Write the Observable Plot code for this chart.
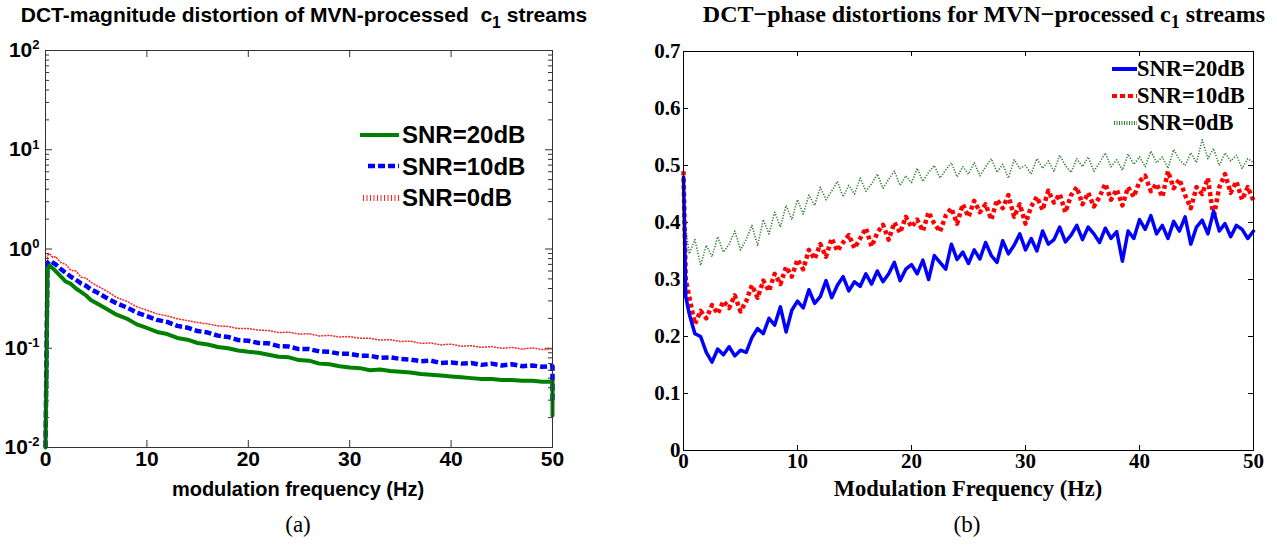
<!DOCTYPE html>
<html><head><meta charset="utf-8">
<script src="https://cdn.jsdelivr.net/npm/d3@7"></script>
<script src="https://cdn.jsdelivr.net/npm/@observablehq/plot@0.6"></script>
<style>
html,body{margin:0;padding:0;background:#fff;width:1277px;height:546px;overflow:hidden;position:relative}
.abs{position:absolute;white-space:nowrap;color:#000}
.sans{font-family:'Liberation Sans',Arial,sans-serif;font-weight:bold}
.serif{font-family:'Liberation Serif','Times New Roman',serif;font-weight:bold}
sub{font-size:0.75em;vertical-align:-0.35em;line-height:0}
.leg{position:absolute;white-space:nowrap}
.leg div{display:flex;align-items:center}
.leg svg{flex:none}
</style></head><body>
<div id="left" class="abs" style="left:0;top:0"></div>
<div id="right" class="abs" style="left:640px;top:0"></div>

<div class="abs sans" style="left:0;width:608px;top:3px;text-align:center;font-size:21px">DCT-magnitude distortion of MVN-processed&nbsp; c<sub>1</sub> streams</div>
<div class="abs serif" style="left:700px;width:568px;top:1px;text-align:center;font-size:24px">DCT−phase distortions for MVN−processed c<sub>1</sub> streams</div>

<div class="abs sans" style="left:98px;width:400px;top:479px;text-align:center;font-size:20px;line-height:20px">modulation frequency (Hz)</div>
<div class="abs serif" style="left:768px;width:400px;top:478px;text-align:center;font-size:22.5px;line-height:22px">Modulation Frequency (Hz)</div>

<div class="abs" style="left:248px;width:100px;top:512px;text-align:center;font:23px 'Liberation Serif',serif">(a)</div>
<div class="abs" style="left:917px;width:100px;top:512px;text-align:center;font:23px 'Liberation Serif',serif">(b)</div>

<div class="leg sans" style="left:356px;top:119px;font-size:24px;line-height:31.5px">
  <div><svg width="44" height="12"><line x1="4" x2="43" y1="6" y2="6" stroke="#008000" stroke-width="4"/></svg><span style="margin-left:2px">SNR=20dB</span></div>
  <div><svg width="44" height="12"><line x1="12" x2="43" y1="6" y2="6" stroke="#0000ff" stroke-width="4.5" stroke-dasharray="7,3"/></svg><span style="margin-left:2px">SNR=10dB</span></div>
  <div><svg width="44" height="12"><line x1="7" x2="43" y1="6" y2="6" stroke="#ff2020" stroke-width="6" stroke-dasharray="1,2.5"/></svg><span style="margin-left:2px">SNR=0dB</span></div>
</div>
<div class="leg serif" style="left:1108px;top:55px;font-size:22.5px;line-height:27px">
  <div><svg width="29" height="12"><line x1="4" x2="29" y1="6" y2="6" stroke="#0000ff" stroke-width="4"/></svg><span>SNR=20dB</span></div>
  <div><svg width="29" height="12"><line x1="4" x2="29" y1="6" y2="6" stroke="#ff0000" stroke-width="4" stroke-dasharray="5,3"/></svg><span>SNR=10dB</span></div>
  <div><svg width="29" height="12"><line x1="6" x2="29" y1="6" y2="6" stroke="#2e7d2e" stroke-width="4" stroke-dasharray="1,1.5"/></svg><span>SNR=0dB</span></div>
</div>

<script>
// ---------- (a) DCT-magnitude distortion (log scale) ----------
const freqMag = [0,0.2,0.4,0.7,1,1.5,2,2.5,3,3.5,4,4.5,5,
  6,7,8,9,10,11,12,13,14,15,16,17,18,19,20,21,22,23,24,25,26,27,28,29,30,
  31,32,33,34,35,36,37,38,39,40,41,42,43,44,45,46,47,48,49,50,50];
const magSNR20 = [0.01,0.62,0.68,0.64,0.6,0.53,0.47,0.445,0.40,0.37,0.34,0.305,0.285,
  0.25,0.218,0.199,0.174,0.16,0.146,0.139,0.127,0.122,0.113,0.109,0.103,0.1,0.095,0.092,0.09,0.086,0.082,0.081,0.076,0.075,0.07,0.069,0.066,0.064,
  0.063,0.06,0.061,0.059,0.058,0.057,0.055,0.054,0.053,0.052,0.051,0.05,0.049,0.049,0.048,0.048,0.047,0.047,0.046,0.046,
  0.021];
const magSNR10 = [0.01,0.72,0.76,0.73,0.7,0.63,0.575,0.525,0.49,0.45,0.425,0.39,0.37,
  0.322,0.284,0.258,0.229,0.211,0.193,0.184,0.168,0.161,0.149,0.144,0.134,0.13,0.121,0.119,0.113,0.112,0.105,0.104,0.098,0.098,0.093,0.092,0.088,0.088,
  0.084,0.084,0.08,0.081,0.078,0.077,0.074,0.075,0.071,0.072,0.07,0.071,0.068,0.07,0.067,0.069,0.066,0.067,0.065,0.066,
  0.03];
const magSNR0 = [0.01,0.86,0.9,0.82,0.84,0.73,0.7,0.61,0.6,0.52,0.51,0.46,0.43,
  0.38,0.325,0.298,0.262,0.242,0.222,0.212,0.198,0.19,0.182,0.176,0.168,0.166,0.158,0.158,0.152,0.151,0.144,0.145,0.139,0.14,0.133,0.135,0.13,0.131,
  0.126,0.126,0.121,0.122,0.117,0.118,0.112,0.113,0.108,0.11,0.105,0.106,0.102,0.104,0.1,0.102,0.098,0.101,0.097,0.099,
  0.098];
const xTickLabels = [0,10,20,30,40,50];
const magYTicks = [0.01,0.1,1,10,100];

// ---------- (b) DCT-phase distortion (linear) ----------
const freqPh = [0,0.2,
  0.5,1,1.5,2,2.5,3,3.5,4,4.5,5,
  5.5,6,6.5,7,7.5,8,8.5,9,9.5,10,
  10.5,11,11.5,12,12.5,13,13.5,14,14.5,15,
  15.5,16,16.5,17,17.5,18,18.5,19,19.5,20,
  20.5,21,21.5,22,22.5,23,23.5,24,24.5,25,
  25.5,26,26.5,27,27.5,28,28.5,29,29.5,30,
  30.5,31,31.5,32,32.5,33,33.5,34,34.5,35,
  35.5,36,36.5,37,37.5,38,38.5,39,39.5,40,
  40.5,41,41.5,42,42.5,43,43.5,44,44.5,45,
  45.5,46,46.5,47,47.5,48,48.5,49,49.5,50];
const phSNR20 = [0.48,0.27,
  0.24,0.205,0.2,0.172,0.155,0.178,0.168,0.182,0.166,0.176,
  0.172,0.198,0.214,0.205,0.232,0.22,0.252,0.208,0.246,0.262,
  0.25,0.282,0.258,0.27,0.298,0.268,0.29,0.305,0.28,0.296,
  0.288,0.31,0.292,0.315,0.296,0.31,0.33,0.298,0.318,0.326,
  0.31,0.334,0.3,0.342,0.33,0.318,0.362,0.335,0.348,0.328,
  0.352,0.336,0.365,0.342,0.33,0.368,0.345,0.36,0.38,0.352,
  0.372,0.35,0.385,0.362,0.37,0.392,0.366,0.378,0.395,0.37,
  0.392,0.38,0.365,0.39,0.372,0.384,0.332,0.385,0.372,0.405,
  0.388,0.412,0.38,0.395,0.372,0.402,0.385,0.41,0.362,0.392,
  0.404,0.38,0.42,0.385,0.398,0.375,0.395,0.388,0.372,0.385];
const phSNR10 = [0.49,0.3,
  0.27,0.222,0.245,0.232,0.255,0.24,0.262,0.25,0.272,0.244,
  0.262,0.29,0.268,0.298,0.28,0.31,0.292,0.322,0.305,0.335,
  0.318,0.352,0.336,0.362,0.34,0.372,0.35,0.365,0.378,0.355,
  0.372,0.39,0.358,0.382,0.396,0.37,0.4,0.382,0.41,0.392,
  0.405,0.385,0.418,0.398,0.384,0.412,0.425,0.398,0.432,0.41,
  0.438,0.418,0.432,0.405,0.44,0.425,0.448,0.41,0.432,0.398,
  0.428,0.445,0.422,0.456,0.435,0.45,0.418,0.448,0.462,0.432,
  0.452,0.428,0.445,0.468,0.44,0.458,0.43,0.462,0.445,0.472,
  0.482,0.455,0.468,0.445,0.49,0.46,0.476,0.448,0.425,0.462,
  0.45,0.478,0.408,0.462,0.485,0.452,0.472,0.44,0.462,0.438];
const phSNR0 = [0.49,0.39,
  0.345,0.37,0.325,0.36,0.34,0.375,0.348,0.362,0.385,0.352,
  0.37,0.395,0.36,0.405,0.38,0.418,0.392,0.43,0.405,0.44,
  0.415,0.448,0.43,0.462,0.44,0.455,0.472,0.445,0.465,0.45,
  0.478,0.455,0.468,0.485,0.46,0.476,0.49,0.465,0.482,0.47,
  0.495,0.472,0.488,0.5,0.478,0.492,0.505,0.48,0.498,0.485,
  0.505,0.482,0.498,0.512,0.488,0.502,0.478,0.51,0.495,0.5,
  0.485,0.512,0.495,0.508,0.49,0.518,0.5,0.488,0.512,0.498,
  0.515,0.49,0.505,0.522,0.498,0.51,0.492,0.52,0.502,0.515,
  0.498,0.525,0.505,0.515,0.495,0.528,0.51,0.5,0.522,0.505,
  0.545,0.512,0.53,0.5,0.522,0.508,0.518,0.495,0.512,0.505];
const phYTicks = [0,0.1,0.2,0.3,0.4,0.5,0.6,0.7];

const toRows = (xs, ys) => xs.map((f, i) => ({f, v: ys[i]})).filter(d => d.v != null);

// ---------- build (a) ----------
{
  const W = 640, H = 546, ml = 45, mr = 88, mt = 50, mb = 99;
  const fh = H - mt - mb, fw = W - ml - mr;
  const inner = xTickLabels.slice(1, -1);
  const major = magYTicks.slice(1, -1);
  const minor = d3.scaleLog().domain([0.01, 100]).ticks().filter(v => !magYTicks.includes(v));
  const ax = "#333";
  const chart = Plot.plot({
    width: W, height: H, marginLeft: ml, marginRight: mr, marginTop: mt, marginBottom: mb,
    style: {fontFamily: "'Liberation Sans', Arial, sans-serif", fontSize: "21px", fontWeight: "bold", color: "#000", background: "transparent", overflow: "visible"},
    x: {domain: [0, 50], axis: null, label: null},
    y: {type: "log", domain: [0.01, 100], axis: null, label: null},
    marks: [
      Plot.axisX(xTickLabels, {label: null, tickSize: 0, tickPadding: 4, tickFormat: d => String(d)}),
      Plot.axisY(magYTicks, {label: null, tickSize: 0, tickPadding: 6, tickFormat: d => "10^" + Math.round(Math.log10(d))}),
      Plot.tickX(inner, {x: d => d, insetTop: fh - 7, stroke: ax}),
      Plot.tickX(inner, {x: d => d, insetBottom: fh - 7, stroke: ax}),
      Plot.tickY(major, {y: d => d, insetRight: fw - 7, stroke: ax}),
      Plot.tickY(major, {y: d => d, insetLeft: fw - 7, stroke: ax}),
      Plot.tickY(minor, {y: d => d, insetRight: fw - 4, stroke: ax}),
      Plot.tickY(minor, {y: d => d, insetLeft: fw - 4, stroke: ax}),
      Plot.line(toRows(freqMag, magSNR0), {x: "f", y: "v", stroke: "#ff2020", strokeWidth: 1.5, strokeDasharray: "2,1", strokeLinecap: "butt"}),
      Plot.line(toRows(freqMag, magSNR10), {x: "f", y: "v", stroke: "#0000ff", strokeWidth: 4.5, strokeDasharray: "7,3", strokeLinecap: "butt"}),
      Plot.line(toRows(freqMag, magSNR20), {x: "f", y: "v", stroke: "#008000", strokeWidth: 4}),
      Plot.frame({stroke: ax})
    ]
  });
  document.getElementById("left").appendChild(chart);
  d3.select(chart).selectAll('g[aria-label="y-axis tick label"] text').each(function() {
    const s = this.textContent.split("^");
    const t = d3.select(this);
    t.text(s[0]);
    t.append("tspan").attr("dy", "-0.6em").attr("font-size", "13px").text(s[1]);
  });
}

// ---------- build (b) ----------
{
  const W = 637, H = 546, ml = 43, mr = 24, mt = 51, mb = 96;
  const fh = H - mt - mb, fw = W - ml - mr;
  const inner = xTickLabels.slice(1, -1);
  const yin = phYTicks.slice(1, -1);
  const ax = "#000";
  const chart = Plot.plot({
    width: W, height: H, marginLeft: ml, marginRight: mr, marginTop: mt, marginBottom: mb,
    style: {fontFamily: "'Liberation Serif', 'Times New Roman', serif", fontSize: "21px", fontWeight: "bold", color: "#000", background: "transparent", overflow: "visible"},
    x: {domain: [0, 50], axis: null, label: null},
    y: {domain: [0, 0.7], axis: null, label: null},
    marks: [
      Plot.axisX(xTickLabels, {label: null, tickSize: 0, tickPadding: 3, tickFormat: d => String(d)}),
      Plot.axisY(phYTicks, {label: null, tickSize: 0, tickPadding: 3, tickFormat: d => d === 0 ? "0" : d.toFixed(1)}),
      Plot.tickX(inner, {x: d => d, insetTop: fh - 5, stroke: ax}),
      Plot.tickX(inner, {x: d => d, insetBottom: fh - 5, stroke: ax}),
      Plot.tickY(yin, {y: d => d, insetRight: fw - 5, stroke: ax}),
      Plot.tickY(yin, {y: d => d, insetLeft: fw - 5, stroke: ax}),
      Plot.line(toRows(freqPh, phSNR0), {x: "f", y: "v", stroke: "#2e7d2e", strokeWidth: 1.6, strokeDasharray: "1.2,1.6", strokeLinecap: "butt"}),
      Plot.line(toRows(freqPh, phSNR10), {x: "f", y: "v", stroke: "#ff0000", strokeWidth: 4.5, strokeDasharray: "4,3", strokeLinecap: "butt"}),
      Plot.line(toRows(freqPh, phSNR20), {x: "f", y: "v", stroke: "#0000ff", strokeWidth: 3.5}),
      Plot.frame({stroke: ax})
    ]
  });
  document.getElementById("right").appendChild(chart);
}
</script>
</body></html>
